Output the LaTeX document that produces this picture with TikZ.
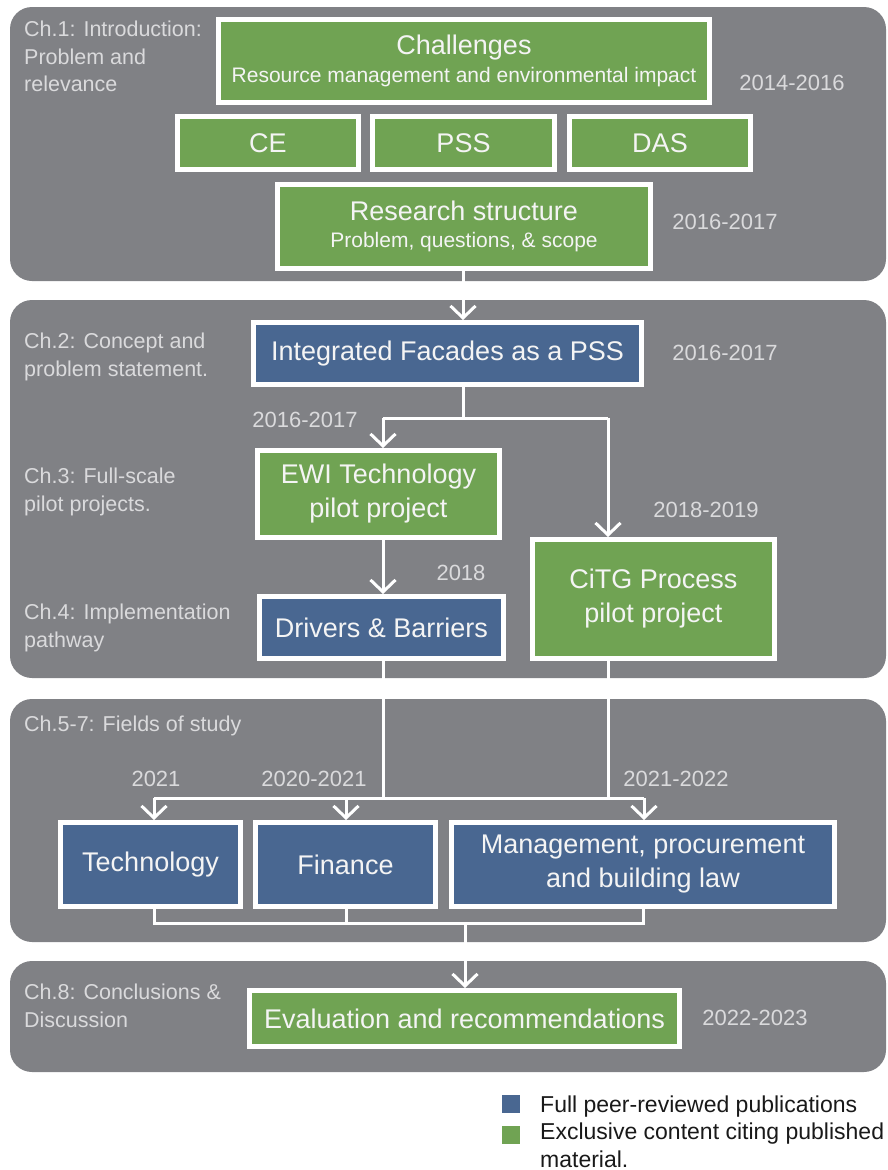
\documentclass[tikz,border=0pt]{standalone}
\usepackage{fontspec}
\setmainfont{Liberation Sans}
\usetikzlibrary{arrows.meta}

\definecolor{panelgray}{RGB}{128,129,133}
\definecolor{pssgreen}{RGB}{112,163,83}
\definecolor{pubblue}{RGB}{73,103,145}
\definecolor{softtext}{RGB}{218,218,220}
\definecolor{boxtext}{RGB}{244,244,244}
\definecolor{legendtext}{RGB}{25,25,25}

\tikzset{
  panel/.style={fill=panelgray, rounded corners=22pt},
  box/.style={draw=white, line width=5pt, inner sep=0pt, text=boxtext,
    align=center, font=\fontsize{27}{34}\selectfont},
  gbox/.style={box, fill=pssgreen},
  bbox/.style={box, fill=pubblue},
  chaplabel/.style={anchor=north west, inner sep=0pt, align=left, text=softtext,
    font=\fontsize{21.5}{27.5}\selectfont},
  yearlabel/.style={inner sep=0pt, text=softtext, font=\fontsize{22}{26}\selectfont},
  flow/.style={draw=white, line width=3pt},
  flowarrow/.style={flow, -{Straight Barb[length=12pt,width=25pt]}},
  legendbox/.style={minimum size=18pt, inner sep=0pt},
  legendlabel/.style={anchor=base west, inner sep=0pt, text=legendtext,
    font=\fontsize{23}{28}\selectfont}
}

\begin{document}
\begin{tikzpicture}[x=1pt,y=-1pt]
\useasboundingbox (0,0) rectangle (887,1170);

% chapter bands
\fill[panel] (10,7) rectangle (886,281);
\fill[panel] (10,300) rectangle (886,678);
\fill[panel] (10,699) rectangle (886,942);
\fill[panel] (10,961) rectangle (886,1072);

% chapter labels
\node[chaplabel] (ch1) at (24,21) {Ch.1: Introduction:\\Problem and\\relevance};
\node[chaplabel] (ch2) at (24,333) {Ch.2: Concept and\\problem statement.};
\node[chaplabel] (ch3) at (24,468) {Ch.3: Full-scale\\pilot projects.};
\node[chaplabel] (ch4) at (24,604) {Ch.4: Implementation\\pathway};
\node[chaplabel] (ch57) at (24,716) {Ch.5-7: Fields of study};
\node[chaplabel] (ch8) at (24,984) {Ch.8: Conclusions \&\\Discussion};

% boxes
\node[gbox, minimum width=491pt, minimum height=83pt, font=\fontsize{27}{28}\selectfont] (chal) at (464,61)
  {Challenges\\\fontsize{21}{28}\selectfont Resource management and environmental impact};
\node[gbox, minimum width=181pt, minimum height=53pt] (ce) at (268,143) {CE};
\node[gbox, minimum width=182pt, minimum height=53pt] (pss) at (463.5,143) {PSS};
\node[gbox, minimum width=181pt, minimum height=53pt] (das) at (660,143) {DAS};
\node[gbox, minimum width=373pt, minimum height=84pt, font=\fontsize{27}{27}\selectfont] (rs) at (464,226)
  {Research structure\\\fontsize{21}{27}\selectfont Problem, questions, \& scope};
\node[bbox, minimum width=388pt, minimum height=62pt] (ifac) at (447.5,353.5) {Integrated Facades as a PSS};
\node[gbox, minimum width=242pt, minimum height=87pt] (ewi) at (378.5,494) {EWI Technology\\pilot project};
\node[bbox, minimum width=244pt, minimum height=62pt] (db) at (381.5,627.5) {Drivers \& Barriers};
\node[gbox, minimum width=242pt, minimum height=119pt] (citg) at (653.5,599) {CiTG Process\\pilot project};
\node[bbox, minimum width=180pt, minimum height=84pt] (tech) at (150.5,864.5) {Technology};
\node[bbox, minimum width=180pt, minimum height=84pt] (fin) at (345.5,864.5) {Finance};
\node[bbox, minimum width=383pt, minimum height=84pt] (mgmt) at (643,864.5) {Management, procurement\\and building law};
\node[gbox, minimum width=430pt, minimum height=56pt] (eval) at (464.5,1018.5) {Evaluation and recommendations};

% years
\node[yearlabel] (y1) at (792,83) {2014-2016};
\node[yearlabel] (y2) at (725,222) {2016-2017};
\node[yearlabel] (y3) at (725,353) {2016-2017};
\node[yearlabel] (y4) at (305,420) {2016-2017};
\node[yearlabel] (y5) at (706,510) {2018-2019};
\node[yearlabel] (y6) at (461,573) {2018};
\node[yearlabel] (y7) at (156,779) {2021};
\node[yearlabel] (y8) at (314,779) {2020-2021};
\node[yearlabel] (y9) at (676,779) {2021-2022};
\node[yearlabel] (y10) at (755,1018) {2022-2023};

% junctions
\coordinate (rsout) at (463,269);
\coordinate (ifout) at (463,387);
\coordinate (split) at (463,418);
\coordinate (splitL) at (383,418);
\coordinate (splitR) at (608,418);
\coordinate (ewiout) at (383,540);
\coordinate (dbout) at (383,661);
\coordinate (citgout) at (608,661);
\coordinate (fanL) at (154,798);
\coordinate (fanM) at (346,798);
\coordinate (fanR) at (644,798);
\coordinate (dbjoin) at (383,798);
\coordinate (citgjoin) at (608,798);
\coordinate (techout) at (154,909);
\coordinate (finout) at (346,909);
\coordinate (mgmtout) at (643,909);
\coordinate (collL) at (154,923);
\coordinate (collM) at (346,923);
\coordinate (collR) at (643,923);
\coordinate (collC) at (465,923);

% connectors
\draw[flowarrow] (rsout) -- (rsout |- ifac.north);
\draw[flow] (ifout) -- (split);
\draw[flow] (splitL) -- (splitR);
\draw[flowarrow] (splitL) -- (splitL |- ewi.north);
\draw[flowarrow] (splitR) -- (splitR |- citg.north);
\draw[flowarrow] (ewiout) -- (ewiout |- db.north);
\draw[flow] (dbout) -- (dbjoin);
\draw[flow] (citgout) -- (citgjoin);
\draw[flow] (fanL) -- (fanR);
\draw[flowarrow] (fanL) -- (fanL |- tech.north);
\draw[flowarrow] (fanM) -- (fanM |- fin.north);
\draw[flowarrow] (fanR) -- (fanR |- mgmt.north);
\draw[flow] (techout) -- (collL) -- (collR) -- (mgmtout);
\draw[flow] (finout) -- (collM);
\draw[flowarrow] (collC) -- (collC |- eval.north);

% legend
\node[legendbox, fill=pubblue] (legpub) at (511,1104) {};
\node[legendbox, fill=pssgreen] (legexc) at (511,1135) {};
\node[legendlabel] (legpubtext) at (540,1112) {Full peer-reviewed publications};
\node[legendlabel, align=left] (legexctext) at (540,1167) {Exclusive content citing published\\material.};
\end{tikzpicture}
\end{document}
